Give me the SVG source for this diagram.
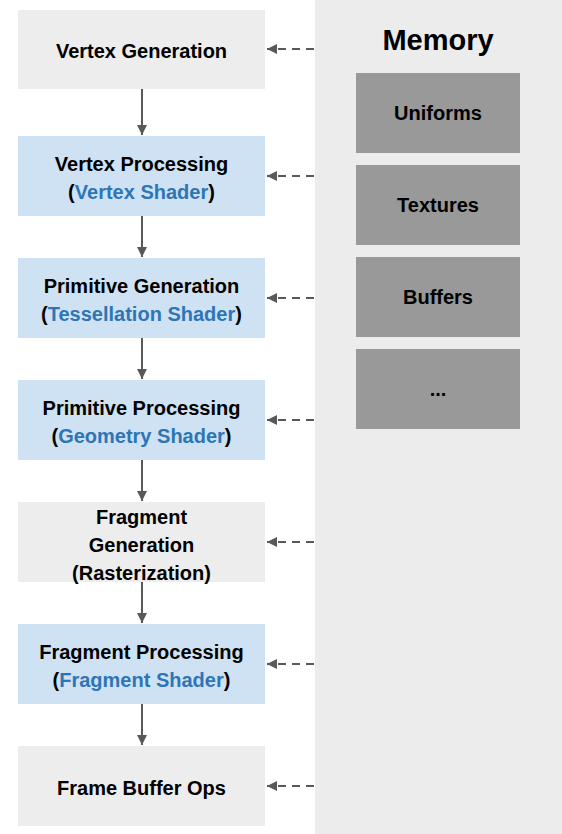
<svg xmlns="http://www.w3.org/2000/svg" width="562" height="834" viewBox="0 0 562 834">
<style>
text{font-family:"Liberation Sans",Arial,sans-serif;font-weight:bold;text-anchor:middle;font-size:20px;fill:#000}
.g{fill:#ededed}
.b{fill:#cfe2f3}
.m{fill:#999999}
.hl{fill:#2e75b6}
.flow{stroke:#595959;stroke-width:2;fill:none}
.dash{stroke:#595959;stroke-width:2;fill:none;stroke-dasharray:8 6}
</style>
<defs>
<marker id="ah" viewBox="0 0 10 10" refX="10" refY="5" markerWidth="5.5" markerHeight="5" orient="auto" markerUnits="strokeWidth">
<path d="M0,0 L10,5 L0,10 z" fill="#595959"/>
</marker>
</defs>
<g id="memory">
<rect x="315" y="0" width="247" height="834" fill="#ececec"/>
<text x="438" y="50" style="font-size:29px">Memory</text>
</g>
<g id="uniforms"><rect class="m" x="356" y="73" width="164" height="80"/><text x="438" y="120">Uniforms</text></g>
<g id="textures"><rect class="m" x="356" y="165" width="164" height="80"/><text x="438" y="212">Textures</text></g>
<g id="buffers"><rect class="m" x="356" y="257" width="164" height="80"/><text x="438" y="304">Buffers</text></g>
<g id="more"><rect class="m" x="356" y="349" width="164" height="80"/><text x="438" y="396">...</text></g>

<g id="vertex-generation"><rect class="g" x="18" y="10" width="247" height="79"/><text x="141.5" y="58">Vertex Generation</text></g>
<g id="vertex-processing"><rect class="b" x="18" y="136" width="247" height="80"/><text x="141.5" y="171">Vertex Processing</text><text x="141.5" y="199">(<tspan class="hl">Vertex Shader</tspan>)</text></g>
<g id="primitive-generation"><rect class="b" x="18" y="258" width="247" height="80"/><text x="141.5" y="293">Primitive Generation</text><text x="141.5" y="321">(<tspan class="hl">Tessellation Shader</tspan>)</text></g>
<g id="primitive-processing"><rect class="b" x="18" y="380" width="247" height="80"/><text x="141.5" y="415">Primitive Processing</text><text x="141.5" y="443">(<tspan class="hl">Geometry Shader</tspan>)</text></g>
<g id="fragment-generation"><rect class="g" x="18" y="502" width="247" height="80"/><text x="141.5" y="524">Fragment</text><text x="141.5" y="552">Generation</text><text x="141.5" y="580">(Rasterization)</text></g>
<g id="fragment-processing"><rect class="b" x="18" y="624" width="247" height="80"/><text x="141.5" y="659">Fragment Processing</text><text x="141.5" y="687">(<tspan class="hl">Fragment Shader</tspan>)</text></g>
<g id="frame-buffer-ops"><rect class="g" x="18" y="746" width="247" height="80"/><text x="141.5" y="795">Frame Buffer Ops</text></g>

<g id="connectors">
<line class="flow" x1="142" y1="89" x2="142" y2="135" marker-end="url(#ah)"/>
<line class="flow" x1="142" y1="216" x2="142" y2="257" marker-end="url(#ah)"/>
<line class="flow" x1="142" y1="338" x2="142" y2="379" marker-end="url(#ah)"/>
<line class="flow" x1="142" y1="460" x2="142" y2="501" marker-end="url(#ah)"/>
<line class="flow" x1="142" y1="582" x2="142" y2="623" marker-end="url(#ah)"/>
<line class="flow" x1="142" y1="704" x2="142" y2="745" marker-end="url(#ah)"/>
<line class="dash" x1="314" y1="49" x2="267" y2="49" marker-end="url(#ah)"/>
<line class="dash" x1="314" y1="176" x2="267" y2="176" marker-end="url(#ah)"/>
<line class="dash" x1="314" y1="298" x2="267" y2="298" marker-end="url(#ah)"/>
<line class="dash" x1="314" y1="420" x2="267" y2="420" marker-end="url(#ah)"/>
<line class="dash" x1="314" y1="542" x2="267" y2="542" marker-end="url(#ah)"/>
<line class="dash" x1="314" y1="664" x2="267" y2="664" marker-end="url(#ah)"/>
<line class="dash" x1="314" y1="786" x2="267" y2="786" marker-end="url(#ah)"/>
</g>
</svg>
